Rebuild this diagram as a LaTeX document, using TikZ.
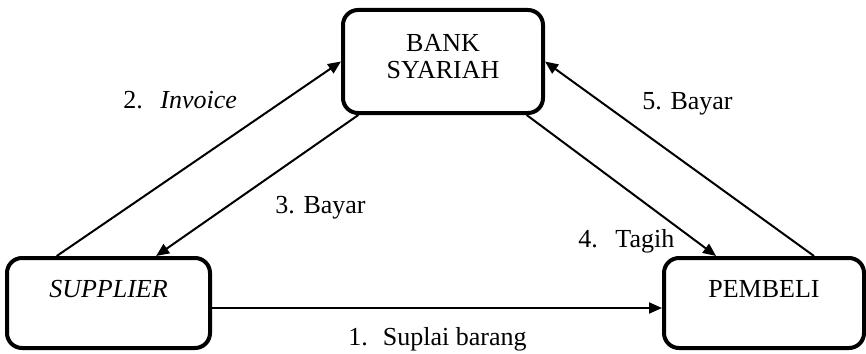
\documentclass[tikz,border=0pt]{standalone}
\usepackage{fontspec}
\setmainfont{Liberation Serif}
\usetikzlibrary{arrows.meta,calc}
\begin{document}
\begin{tikzpicture}[x=0.5pt,y=-0.5pt,
  font=\fontsize{13}{13.5}\selectfont,
  box/.style={draw,line width=2pt,rounded corners=7.5pt,align=center,inner sep=0pt},
  arr/.style={line width=1pt,-{Triangle[length=6.5pt,width=5.5pt]}},
  lab/.style={anchor=base west,inner sep=0pt}]
\useasboundingbox (0,0) rectangle (866,353);
\node[box,minimum width=100pt,minimum height=51.5pt] (bank) at (443,61.5)
  {\rule{0pt}{9pt}BANK\\SYARIAH\rule[-5pt]{0pt}{5pt}};
\node[box,minimum width=101.5pt,minimum height=45pt,text height=9pt,text depth=15pt] (sup) at (108.5,303)
  {\textit{SUPPLIER}};
\node[box,minimum width=100pt,minimum height=45pt,text height=9pt,text depth=15pt] (pem) at (764,303)
  {PEMBELI};
\draw[arr] ([yshift=-2.5pt]sup.east) -- ([yshift=-2.5pt]pem.west);
\draw[arr] ($(sup.north west)!0.25!(sup.north east)$) -- (bank.west);
\draw[arr] ($(bank.south west)!0.085!(bank.south east)$) -- ($(sup.north west)!0.73!(sup.north east)$);
\draw[arr] ($(bank.south west)!0.91!(bank.south east)$) -- ($(pem.north west)!0.265!(pem.north east)$);
\draw[arr] ($(pem.north west)!0.745!(pem.north east)$) -- (bank.east);
\node[lab] (l1) at (348,345) {1.\hspace{7.5pt}Suplai barang};
\node[lab] (l2) at (123,109) {2.\hspace{8.75pt}\textit{Invoice}};
\node[lab] (l3) at (275,213) {3. Bayar};
\node[lab] (l4) at (578,247) {4.\hspace{8.75pt}Tagih};
\node[lab] (l5) at (642,110) {5. Bayar};
\end{tikzpicture}
\end{document}
